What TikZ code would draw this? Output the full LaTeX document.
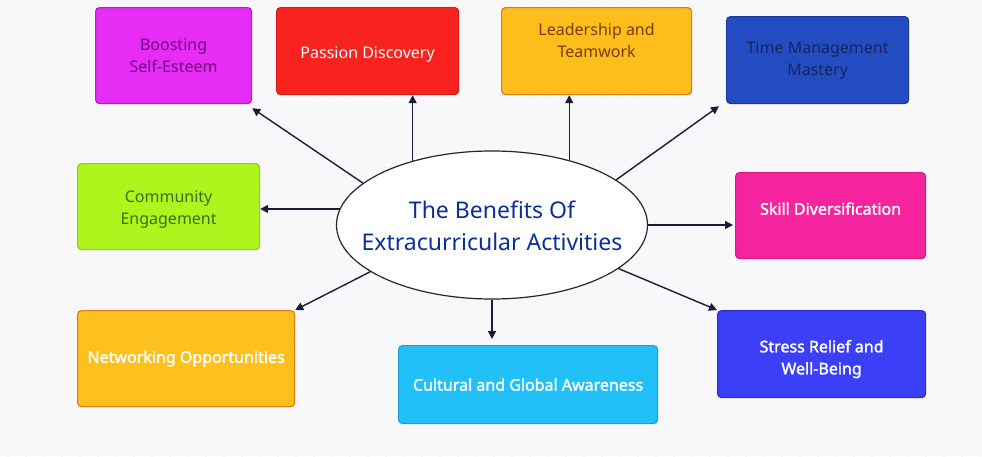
\documentclass[tikz,border=0pt]{standalone}
\usepackage{fontspec}
\setmainfont{Noto Sans}
\newfontfamily\bsans[FakeBold=1.8]{Noto Sans}
\usetikzlibrary{arrows.meta,shapes.geometric}
\definecolor{bgc}{HTML}{F8F8FA}
\definecolor{dotc}{HTML}{DCDCE4}
\definecolor{arr}{HTML}{1B1B3A}
\definecolor{ttl}{HTML}{0B2E9C}
\definecolor{boostF}{HTML}{E62CF5}\definecolor{boostD}{HTML}{B81BC8}\definecolor{boostT}{HTML}{6A0C7E}
\definecolor{passF}{HTML}{F8231E}\definecolor{passD}{HTML}{D81A14}
\definecolor{leadF}{HTML}{FDBE1B}\definecolor{leadD}{HTML}{E4791A}\definecolor{leadT}{HTML}{7A3C05}
\definecolor{timeF}{HTML}{244CC2}\definecolor{timeD}{HTML}{1A3A9A}\definecolor{timeT}{HTML}{14285E}
\definecolor{commF}{HTML}{ADF51C}\definecolor{commD}{HTML}{8CD018}\definecolor{commT}{HTML}{3C6E12}
\definecolor{skillF}{HTML}{F5239D}\definecolor{skillD}{HTML}{D81A85}
\definecolor{netF}{HTML}{FDC01C}\definecolor{netD}{HTML}{E67A15}
\definecolor{cultF}{HTML}{21C0F8}\definecolor{cultD}{HTML}{1BA0E0}
\definecolor{stressF}{HTML}{3B40F8}\definecolor{stressD}{HTML}{2A2ED8}
\tikzset{
  box/.style={draw, rounded corners=4pt, line width=1.2pt, anchor=north west, align=center, inner sep=2pt, font=\fontsize{16}{22}\selectfont},
  boldtxt/.style={font=\bsans\fontsize{16}{22}\selectfont},
  conn/.style={draw=arr, line width=1.4pt, -{Triangle[length=8pt,width=8pt]}},
}
\begin{document}
\begin{tikzpicture}[x=1pt,y=-1pt]
\fill[bgc] (0,0) rectangle (982,456);
\useasboundingbox (0,0) rectangle (982,456);
\foreach \i in {0,...,54}{\foreach \j in {0,...,25}{\fill[dotc] (8+18*\i,6+18*\j) circle (0.7pt);}}

\node[draw=black!85, fill=white, line width=1.2pt, ellipse, minimum width=311pt, minimum height=148pt, inner sep=0pt,
  label={[align=center, text=ttl, font=\fontsize{23}{32}\selectfont, yshift=-1pt]center:The Benefits Of\\Extracurricular Activities}] (c) at (492,225) {};

\node[box, fill=boostF, draw=boostD, text=boostT, minimum width=156pt, minimum height=96pt] (boost) at (95,7) {Boosting\\Self-Esteem};
\node[box, fill=passF, draw=passD, text=white, minimum width=182pt, minimum height=87pt,
  label={[text=white, font=\fontsize{16}{22}\selectfont, yshift=-3pt]center:Passion Discovery}] (pass) at (276,7) {};
\node[box, fill=leadF, draw=leadD, minimum width=190pt, minimum height=87pt,
  label={[align=center, text=leadT, font=\fontsize{16}{22}\selectfont, yshift=11pt]center:Leadership and\\Teamwork}] (lead) at (501,7) {};
\node[box, fill=timeF, draw=timeD, text=timeT, minimum width=182pt, minimum height=87pt] (time) at (726,16) {Time Management\\Mastery};
\node[box, fill=commF, draw=commD, minimum width=182pt, minimum height=86pt,
  label={[align=center, text=commT, font=\fontsize{16}{22}\selectfont, yshift=-3pt]center:Community\\Engagement}] (comm) at (77,163) {};
\node[box, fill=skillF, draw=skillD, text=white, minimum width=190pt, minimum height=86pt,
  label={[text=white, boldtxt, yshift=7pt]center:Skill Diversification}] (skill) at (735,172) {};
\node[box, fill=netF, draw=netD, text=white, minimum width=217pt, minimum height=96pt, boldtxt] (net) at (77,310) {Networking Opportunities};
\node[box, fill=cultF, draw=cultD, text=white, minimum width=259pt, minimum height=78pt, boldtxt] (cult) at (398,345) {Cultural and Global Awareness};
\node[box, fill=stressF, draw=stressD, minimum width=208pt, minimum height=87pt,
  label={[align=center, text=white, boldtxt, yshift=-5pt]center:Stress Relief and\\Well-Being}] (stress) at (717,310) {};

\draw[conn] (c.162) -- ([shift={(0pt,-4pt)}]boost.south east);
\draw[conn] (c.141) -- (c.141 |- pass.south);
\draw[conn] (c.40) -- (c.40 |- lead.south);
\draw[conn] (c.20) -- ([shift={(-7pt,-2pt)}]time.south west);
\draw[conn] (c.174) -- (c.174 -| comm.east);
\draw[conn] (c.east) -- ([xshift=-2pt]c.east -| skill.west);
\draw[conn] (c.201) -- (net.north east);
\draw[conn, shorten >=6pt] (c.south) -- (c.south |- cult.north);
\draw[conn] (c.341) -- (stress.north west);
\end{tikzpicture}
\end{document}
